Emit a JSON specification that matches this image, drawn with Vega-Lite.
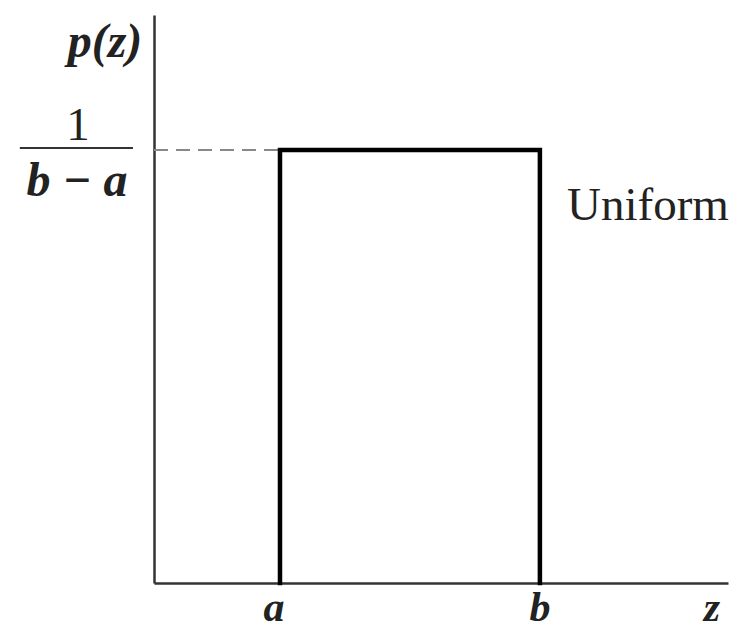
{
  "$schema": "https://vega.github.io/schema/vega-lite/v6.json",
  "autosize": {"type": "none"},
  "width": 574,
  "height": 568,
  "padding": {"left": 154, "top": 15, "right": 14, "bottom": 50},
  "background": "white",
  "config": {"view": {"stroke": null}},
  "datasets": {
    "pdf": [
      {"z": 1, "p": 0, "order": 1},
      {"z": 1, "p": 1, "order": 2},
      {"z": 3.063, "p": 1, "order": 3},
      {"z": 3.063, "p": 0, "order": 4}
    ],
    "dash": [{"z0": 0, "z1": 1, "p": 1}],
    "frac": [{"z0": -1.065, "z1": -0.167, "p": 1.005}],
    "italicLabels": [
      {"z": -0.389, "p": 1.215, "label": "p(z)"},
      {"z": -0.611, "p": 0.894, "label": "b − a"}
    ],
    "axisLetters": [
      {"z": 0.952, "p": -0.0878, "label": "a"},
      {"z": 3.063, "p": -0.0878, "label": "b"},
      {"z": 4.429, "p": -0.0878, "label": "z"}
    ],
    "plainLabels": [
      {"z": -0.603, "p": 1.023, "label": "1"},
      {"z": 3.921, "p": 0.838, "label": "Uniform"}
    ]
  },
  "layer": [
    {
      "data": {"name": "dash"},
      "mark": {"type": "rule", "color": "#888", "strokeWidth": 2, "strokeDash": [14, 8]},
      "encoding": {
        "x": {"field": "z0", "type": "quantitative", "scale": {"domain": [0, 4.556], "nice": false, "zero": false},
          "axis": {"title": null, "labels": false, "ticks": false, "grid": false, "domainColor": "#333", "domainWidth": 2.5}},
        "x2": {"field": "z1"},
        "y": {"field": "p", "type": "quantitative", "scale": {"domain": [0, 1.312], "nice": false, "zero": false},
          "axis": {"title": null, "labels": false, "ticks": false, "grid": false, "domainColor": "#333", "domainWidth": 2.5}}
      }
    },
    {
      "data": {"name": "pdf"},
      "mark": {"type": "line", "color": "black", "strokeWidth": 4.5, "strokeJoin": "miter", "strokeCap": "square"},
      "encoding": {
        "x": {"field": "z", "type": "quantitative"},
        "y": {"field": "p", "type": "quantitative"},
        "order": {"field": "order"}
      }
    },
    {
      "data": {"name": "frac"},
      "mark": {"type": "rule", "color": "#333", "strokeWidth": 2, "clip": false},
      "encoding": {
        "x": {"field": "z0", "type": "quantitative"},
        "x2": {"field": "z1"},
        "y": {"field": "p", "type": "quantitative"}
      }
    },
    {
      "data": {"name": "italicLabels"},
      "mark": {"type": "text", "font": "'Liberation Serif', serif", "fontStyle": "italic", "fontWeight": "bold", "fontSize": 48, "color": "#222", "align": "center", "baseline": "alphabetic", "clip": false},
      "encoding": {
        "x": {"field": "z", "type": "quantitative"},
        "y": {"field": "p", "type": "quantitative"},
        "text": {"field": "label"}
      }
    },
    {
      "data": {"name": "axisLetters"},
      "mark": {"type": "text", "font": "'Liberation Serif', serif", "fontStyle": "italic", "fontWeight": "bold", "fontSize": 42, "color": "#222", "align": "center", "baseline": "alphabetic", "clip": false},
      "encoding": {
        "x": {"field": "z", "type": "quantitative"},
        "y": {"field": "p", "type": "quantitative"},
        "text": {"field": "label"}
      }
    },
    {
      "data": {"name": "plainLabels"},
      "mark": {"type": "text", "font": "'Liberation Serif', serif", "fontSize": 47, "color": "#222", "align": "center", "baseline": "alphabetic", "clip": false},
      "encoding": {
        "x": {"field": "z", "type": "quantitative"},
        "y": {"field": "p", "type": "quantitative"},
        "text": {"field": "label"}
      }
    }
  ]
}
